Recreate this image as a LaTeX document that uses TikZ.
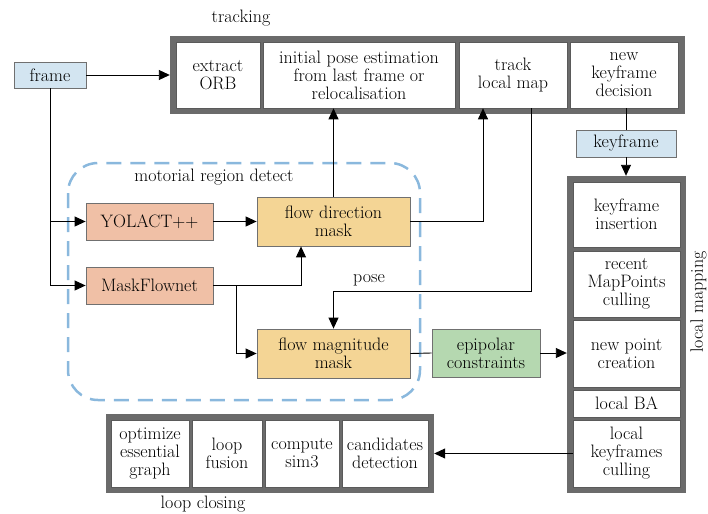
\documentclass[tikz,border=0pt]{standalone}
\usetikzlibrary{arrows.meta,positioning,calc}
\definecolor{frameG}{HTML}{6B6B6B}
\definecolor{cellB}{HTML}{5A5A5A}
\definecolor{blueF}{HTML}{D3E5F1}
\definecolor{salmonF}{HTML}{F0C0A6}
\definecolor{yellowF}{HTML}{F4D595}
\definecolor{greenF}{HTML}{B5D8B0}
\definecolor{dashB}{HTML}{8AB8DD}
\definecolor{boxB}{HTML}{707070}
\tikzset{
  outerbox/.style={draw=none,fill=frameG,inner sep=0pt},
  cell/.style={draw=cellB,line width=0.6pt,fill=white,inner sep=0pt,align=center},
  colbox/.style={draw=boxB,line width=0.8pt,inner sep=0pt,align=center},
  arr/.style={line width=0.9pt,-{Triangle[length=11pt,width=10pt]}},
  ln/.style={line width=0.9pt},
  lbl/.style={inner sep=0pt},
}
\begin{document}
\begin{tikzpicture}[x=1pt,y=-1pt,font=\fontsize{18}{18}\selectfont]
\useasboundingbox (0,0) rectangle (708,513);

% outer frames
\node[outerbox,minimum width=515pt,minimum height=78pt] (trk) at (427.5,75) {};
\node[outerbox,minimum width=119pt,minimum height=317pt] (lm) at (626.5,334.5) {};
\node[outerbox,minimum width=328pt,minimum height=79pt] (lc) at (270,453.5) {};

% tracking cells
\node[cell,minimum width=84pt,minimum height=66pt] (orb) at (218,75) {extract\\ORB};
\node[cell,minimum width=192pt,minimum height=66pt] (pose) at (359,75) {initial pose estimation\\from last frame or\\relocalisation};
\node[cell,minimum width=108pt,minimum height=66pt] (tlm) at (513,75) {track\\local map};
\node[cell,minimum width=108pt,minimum height=66pt] (nkd) at (624,75) {new\\keyframe\\decision};

% local mapping cells
\node[cell,minimum width=107pt,minimum height=65pt] (ki) at (626.5,214.5) {keyframe\\insertion};
\node[cell,minimum width=107pt,minimum height=66pt] (rmp) at (626.5,284) {recent\\MapPoints\\culling};
\node[cell,minimum width=107pt,minimum height=67pt] (npc) at (626.5,353.5) {new point\\creation};
\node[cell,minimum width=107pt,minimum height=27pt] (lba) at (626.5,403.5) {local BA};
\node[cell,minimum width=107pt,minimum height=67pt] (lkc) at (626.5,453.5) {local\\keyframes\\culling};

% loop closing cells
\node[cell,minimum width=78pt,minimum height=67pt] (oeg) at (150,453.5) {optimize\\essential\\graph};
\node[cell,minimum width=70pt,minimum height=67pt] (lf) at (227,453.5) {loop\\fusion};
\node[cell,minimum width=74pt,minimum height=67pt] (cs) at (302,453.5) {compute\\sim3};
\node[cell,minimum width=86pt,minimum height=67pt] (cd) at (385,453.5) {candidates\\detection};

% dashed region
\draw[dashB,line width=2.5pt,dash pattern=on 15pt off 9pt,rounded corners=30pt] (68,163) rectangle (420,400);

% coloured boxes
\node[colbox,fill=blueF,minimum width=72pt,minimum height=26pt] (frame) at (50,75) {frame};
\node[colbox,fill=blueF,minimum width=100pt,minimum height=27pt] (kf) at (626,143.5) {keyframe};
\node[colbox,fill=salmonF,minimum width=127pt,minimum height=37pt] (yol) at (149.5,221.5) {YOLACT++};
\node[colbox,fill=salmonF,minimum width=127pt,minimum height=37pt] (mfn) at (149.5,285.5) {MaskFlownet};
\node[colbox,fill=yellowF,minimum width=153pt,minimum height=49pt] (fd) at (333.5,221.5) {flow direction\\mask};
\node[colbox,fill=yellowF,minimum width=153pt,minimum height=49pt] (fm) at (333.5,353.5) {flow magnitude\\mask};
\node[colbox,fill=greenF,minimum width=108pt,minimum height=48pt] (epi) at (486,353) {epipolar\\constraints};

% labels
\node[lbl] (tTrk) at (241,18) {tracking};
\node[lbl] (tMot) at (214,177) {motorial region detect};
\node[lbl,rotate=90] (tLm) at (698.5,302) {local mapping};
\node[lbl] (tLc) at (203,504) {loop closing};
\node[lbl] (tPose) at (369,280) {pose};

% connectors
\draw[arr] (frame.east) -- (frame.east -| trk.west);
\coordinate (fy) at (frame.south |- yol.west);
\draw[arr] (frame.south) |- (mfn.west);
\draw[arr] (fy) -- (yol.west);
\draw[arr] (yol.east) -- (fd.west);
\draw[arr] (mfn.east) -| ([xshift=-32.5pt]fd.south);
\draw[arr] (mfn.east) -- ++(23,0) |- (fm.west);
\draw[arr] (fd.north) -- (fd.north |- pose.south);
\draw[arr] (fd.east) -| ([xshift=-30pt]tlm.south);
\draw[arr] ([xshift=18pt]tlm.south) -- ++(0,183) -| (fm.north);
\draw[ln] (fm.east) -- (epi.west);
\draw[arr] (epi.east) -- (epi.east -| lm.west);
\draw[ln] (kf.north |- nkd.south) -- (kf.north);
\draw[arr] (kf.south) -- (kf.south |- lm.north);
\draw[arr] (lkc.west) -- (lkc.west -| lc.east);
\end{tikzpicture}
\end{document}
